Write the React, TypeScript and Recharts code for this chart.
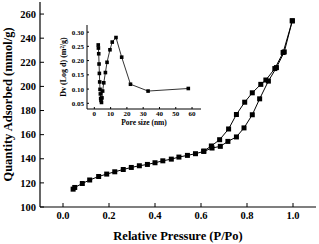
import React from "react";
import { LineChart, Line, XAxis, YAxis, Label } from "recharts";

// isotherm, adsorption branch
const adsP = [0.044, 0.051, 0.084, 0.116, 0.155, 0.19, 0.225, 0.262, 0.297, 0.332, 0.367, 0.4, 0.434, 0.471, 0.504, 0.541, 0.576, 0.612, 0.648, 0.684, 0.717, 0.754, 0.787, 0.823, 0.855, 0.893, 0.928, 0.962, 0.997];
const adsQ = [114.8, 116.2, 119.5, 122.4, 125.3, 127.3, 129.2, 131.1, 132.8, 134.2, 135.3, 136.7, 138.3, 139.7, 141.4, 142.8, 144.2, 146.1, 148.9, 150.3, 154.4, 158.1, 165.6, 176.5, 189.7, 204.4, 215.6, 228.6, 254.4];

// desorption branch
const desP = [0.997, 0.957, 0.921, 0.882, 0.86, 0.823, 0.79, 0.754, 0.72, 0.681, 0.645, 0.612];
const desQ = [254.4, 228.1, 214.8, 205.3, 201.7, 194.7, 186.9, 176.7, 164.7, 155.8, 150.6, 146.4];

// pore size distribution (inset)
const poreSize = [2.4, 2.5, 2.7, 2.9, 3.1, 3.3, 3.5, 3.7, 3.9, 4.1, 4.4, 4.7, 5.1, 5.8, 6.8, 7.8, 9.6, 11.0, 13.3, 16.8, 22.2, 33.0, 57.7];
const dv = [0.255, 0.244, 0.224, 0.188, 0.155, 0.125, 0.099, 0.083, 0.067, 0.06, 0.053, 0.069, 0.093, 0.122, 0.158, 0.194, 0.238, 0.265, 0.281, 0.212, 0.117, 0.093, 0.102];

const xTicks = [0, 0.2, 0.4, 0.6, 0.8, 1.0];
const yTicks = [100, 120, 140, 160, 180, 200, 220, 240, 260];
const insetXTicks = [0, 10, 20, 30, 40, 50, 60];
const insetYTicks = [0.05, 0.1, 0.15, 0.2, 0.25, 0.3];

const adsData = adsP.map((p, i) => ({ p, q: adsQ[i] }));
const desData = desP.map((p, i) => ({ p, q: desQ[i] }));
const psdData = poreSize.map((d, i) => ({ d, v: dv[i] }));

const font = "'Liberation Serif', 'Times New Roman', serif";

const square = (s: number) => (props: any) => (
  <rect key={props.index} x={props.cx - s / 2} y={props.cy - s / 2} width={s} height={s} fill="#000" />
);

export default function App() {
  const tick = { fontFamily: font, fontWeight: "bold", fontSize: 10.5, fill: "#000" };
  const smallTick = { fontFamily: font, fontWeight: "bold", fontSize: 7, fill: "#000" };
  return (
    <div style={{ position: "absolute", left: 0, top: 0, width: 319, height: 244, background: "#fff" }}>
      <LineChart width={319} height={244} margin={{ top: 2, right: 3, left: 0, bottom: 0 }}>
        <XAxis dataKey="p" type="number" domain={[-0.1, 1.1]} ticks={xTicks} allowDataOverflow
          tickFormatter={(v: number) => v.toFixed(1)} tick={tick} tickSize={-4} tickMargin={9}
          axisLine={{ stroke: "#000", strokeWidth: 1.2 }} tickLine={{ stroke: "#000" }} height={37}>
          <Label value="Relative Pressure (P/Po)" position="insideBottom" offset={4}
            style={{ fontFamily: font, fontWeight: "bold", fontSize: 12.5, fill: "#000" }} />
        </XAxis>
        <XAxis xAxisId="top" orientation="top" type="number" domain={[-0.1, 1.1]} height={0}
          tick={false} tickLine={false} axisLine={{ stroke: "#000", strokeWidth: 1.2 }} />
        <YAxis type="number" domain={[100, 270]} ticks={yTicks} allowDataOverflow tick={tick}
          tickSize={-4} tickMargin={8} width={40}
          axisLine={{ stroke: "#000", strokeWidth: 1.2 }} tickLine={{ stroke: "#000" }}>
          <Label value="Quantity Adsorbed (mmol/g)" position="insideLeft" angle={-90} offset={8}
            style={{ textAnchor: "middle", fontFamily: font, fontWeight: "bold", fontSize: 12.5, fill: "#000" }} />
        </YAxis>
        <YAxis yAxisId="right" orientation="right" type="number" domain={[100, 270]} width={0}
          tick={false} tickLine={false} axisLine={{ stroke: "#000", strokeWidth: 1.2 }} />
        <Line data={adsData} dataKey="q" stroke="#000" strokeWidth={1} dot={square(5)}
          isAnimationActive={false} />
        <Line data={desData} dataKey="q" stroke="#000" strokeWidth={1} dot={square(5)}
          isAnimationActive={false} />
      </LineChart>

      <div style={{ position: "absolute", left: 56, top: 20, width: 150, height: 108 }}>
        <LineChart width={150} height={108} margin={{ top: 5, right: 5, left: 0, bottom: 0 }}>
          <XAxis dataKey="d" type="number" domain={[-4.5, 65.5]} ticks={insetXTicks} allowDataOverflow
            tick={smallTick} tickSize={-2} tickMargin={4} height={19}
            axisLine={{ stroke: "#000" }} tickLine={{ stroke: "#000" }}>
            <Label value="Pore size (nm)" position="insideBottom" offset={3}
              style={{ fontFamily: font, fontWeight: "bold", fontSize: 7.5, fill: "#000" }} />
          </XAxis>
          <XAxis xAxisId="top" orientation="top" type="number" domain={[-4.5, 65.5]} height={0}
            tick={false} tickLine={false} axisLine={{ stroke: "#000" }} />
          <YAxis type="number" domain={[0.03, 0.325]} ticks={insetYTicks} allowDataOverflow
            tickFormatter={(v: number) => v.toFixed(2)} tick={smallTick} tickSize={-2} tickMargin={5}
            width={31} axisLine={{ stroke: "#000" }} tickLine={{ stroke: "#000" }}>
            <Label value="Dv (Log d) (m²/g)" position="insideLeft" angle={-90} offset={7}
              style={{ textAnchor: "middle", fontFamily: font, fontWeight: "bold", fontSize: 8, fill: "#000" }} />
          </YAxis>
          <YAxis yAxisId="right" orientation="right" type="number" domain={[0.03, 0.325]} width={0}
            tick={false} tickLine={false} axisLine={{ stroke: "#000" }} />
          <Line data={psdData} dataKey="v" stroke="#000" strokeWidth={0.8} dot={square(3.6)}
            isAnimationActive={false} />
        </LineChart>
      </div>
    </div>
  );
}
